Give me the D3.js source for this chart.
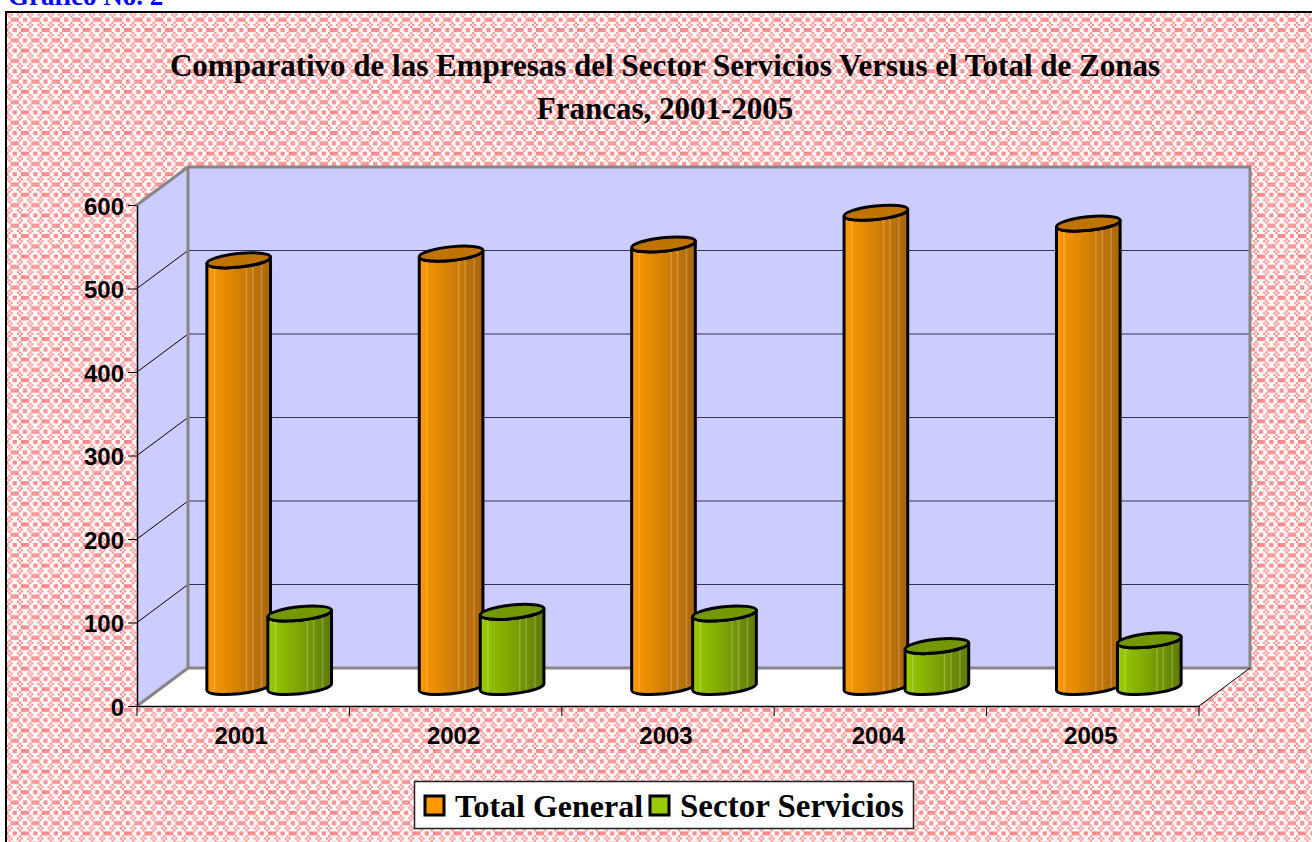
<!DOCTYPE html>
<html>
<head>
<meta charset="utf-8">
<title>Grafico No. 2</title>
<script src="https://cdnjs.cloudflare.com/ajax/libs/d3/7.8.5/d3.min.js"></script>
<style>
    html, body { margin: 0; padding: 0; background: #fff; overflow: hidden; }
    svg { display: block; }
    .serif { font-family: "Liberation Serif", "Times New Roman", serif; font-weight: bold; }
    .sans { font-family: "Liberation Sans", Arial, sans-serif; font-weight: bold; }
</style>
</head>
<body>
<div id="chart"></div>
<script>
// data
const years = ["2001", "2002", "2003", "2004", "2005"];
const seriesNames = ["Total General", "Sector Servicios"];
const totalGeneral = [511, 519, 530, 568, 555];
const sectorServicios = [88, 90, 88, 49, 56];
const yTicks = [0, 100, 200, 300, 400, 500, 600];
const titleLines = ["Comparativo de las Empresas del Sector Servicios Versus el Total de Zonas", "Francas, 2001-2005"];

const seriesValues = [totalGeneral, sectorServicios];
const colors = [
    {light: "#FF9900", dark: "#A8660C", top: "#BF7300"},
    {light: "#99CC00", dark: "#5F7A08", top: "#739900"}
];

// background tile, one char per cell
const tile = [
    "####..##..",
    "####..##..",
    "....#....#",
    "#..#.#..#.",
    "....#....#",
    ".##..####.",
    ".##..####.",
    "....#....#",
    "#..#.#..#.",
    "....#....#"
];
const cell = 2.06;

const svg = d3.select("#chart").append("svg")
    .attr("width", 1312)
    .attr("height", 842);
const defs = svg.append("defs");

// pattern fill of the chart area
const pattern = defs.append("pattern")
    .attr("id", "bgTile")
    .attr("patternUnits", "userSpaceOnUse")
    .attr("x", 0.3).attr("y", 7.4)
    .attr("width", tile[0].length * cell)
    .attr("height", tile.length * cell);
pattern.append("rect")
    .attr("width", tile[0].length * cell)
    .attr("height", tile.length * cell)
    .attr("fill", "#fff");
tile.forEach((row, r) => {
    row.split("").forEach((c, i) => {
        if (c === "#") {
            pattern.append("rect")
                .attr("x", i * cell).attr("y", r * cell)
                .attr("width", cell).attr("height", cell)
                .attr("fill", "#FF8080");
        }
    });
});

// the reference pattern is a bit soft
defs.append("filter").attr("id", "soft")
    .append("feGaussianBlur").attr("stdDeviation", 0.45);

// cylinder shading
colors.forEach((c, i) => {
    const shade = d3.interpolateRgb(c.light, c.dark);
    const grad = defs.append("linearGradient").attr("id", "cyl" + i);
    d3.range(0, 1.001, 0.02).forEach(t => {
        // a few pale stripes like the 3D renderer leaves behind
        const stripe = [0.12, 0.62, 0.72, 0.86].some(s => Math.abs(s - t) < 0.001);
        const col = stripe ? d3.interpolateRgb(shade(t), "#fff")(0.25) : shade(t);
        grad.append("stop").attr("offset", t).attr("stop-color", col);
    });
});

// chart frame
svg.append("rect")
    .attr("x", 6).attr("y", 12)
    .attr("width", 1340).attr("height", 860)
    .attr("fill", "url(#bgTile)")
    .attr("filter", "url(#soft)");
svg.append("rect")
    .attr("x", 6).attr("y", 12)
    .attr("width", 1340).attr("height", 860)
    .attr("fill", "none")
    .attr("stroke", "#000")
    .attr("stroke-width", 2);

svg.append("text")
    .attr("class", "serif")
    .attr("x", 8).attr("y", 5)
    .attr("font-size", 27)
    .attr("fill", "#0000FF")
    .text("Gráfico No. 2");

// title
svg.append("g").selectAll("text")
    .data(titleLines)
    .enter().append("text")
    .attr("class", "serif")
    .attr("x", 665)
    .attr("y", (d, i) => 76 + i * 43)
    .attr("text-anchor", "middle")
    .attr("font-size", 31)
    .attr("fill", "#000")
    .text(d => d);

// scales, front plane of the 3D box
const x = d3.scaleBand().domain(years).range([137, 1199]);
const y = d3.scaleLinear().domain([0, 600]).range([706, 205]);
const depth = {x: 51, y: -38};

const box = svg.append("g");
const wallFill = "#CCCCFF";
const wallStroke = "#868686";

// floor
box.append("polygon")
    .attr("points", [[x.range()[0], y(0)], [x.range()[0] + depth.x, y(0) + depth.y],
        [x.range()[1] + depth.x, y(0) + depth.y], [x.range()[1], y(0)]].join(" "))
    .attr("fill", "#fff");
// side wall
box.append("polygon")
    .attr("points", [[x.range()[0], y(0)], [x.range()[0], y(600)],
        [x.range()[0] + depth.x, y(600) + depth.y], [x.range()[0] + depth.x, y(0) + depth.y]].join(" "))
    .attr("fill", wallFill);
// back wall
box.append("rect")
    .attr("x", x.range()[0] + depth.x)
    .attr("y", y(600) + depth.y)
    .attr("width", x.range()[1] - x.range()[0])
    .attr("height", y(0) - y(600))
    .attr("fill", wallFill);

// gridlines on both walls
const grid = yTicks.filter(d => d > 0 && d < 600);
box.append("g").selectAll("line")
    .data(grid)
    .enter().append("line")
    .attr("x1", x.range()[0] + depth.x).attr("x2", x.range()[1] + depth.x)
    .attr("y1", d => y(d) + depth.y).attr("y2", d => y(d) + depth.y)
    .attr("stroke", "#333355").attr("stroke-width", 1);
box.append("g").selectAll("line")
    .data(grid)
    .enter().append("line")
    .attr("x1", x.range()[0]).attr("x2", x.range()[0] + depth.x)
    .attr("y1", d => y(d)).attr("y2", d => y(d) + depth.y)
    .attr("stroke", "#000").attr("stroke-width", 1);

// grey box edges
box.append("path")
    .attr("d", `M${x.range()[0]},${y(600)} L${x.range()[0] + depth.x},${y(600) + depth.y} ` +
        `H${x.range()[1] + depth.x} V${y(0) + depth.y} H${x.range()[0] + depth.x} V${y(600) + depth.y} ` +
        `M${x.range()[0] + depth.x},${y(0) + depth.y} L${x.range()[0]},${y(0)}`)
    .attr("fill", "none")
    .attr("stroke", wallStroke)
    .attr("stroke-width", 3);
box.append("line")
    .attr("x1", x.range()[1]).attr("y1", y(0))
    .attr("x2", x.range()[1] + depth.x).attr("y2", y(0) + depth.y)
    .attr("stroke", "#000").attr("stroke-width", 1);

// axes
const yAxis = d3.axisLeft(y).tickValues(yTicks).tickSize(9).tickPadding(4).tickSizeOuter(0).tickFormat(d3.format("d"));
const xAxis = d3.axisBottom(x).tickSize(0).tickPadding(21);

const yG = svg.append("g").attr("transform", `translate(${x.range()[0]},0)`).call(yAxis);
const xG = svg.append("g").attr("transform", `translate(0,${y(0)})`).call(xAxis);
[yG, xG].forEach(g => {
    g.selectAll("path").attr("stroke", "#000").attr("stroke-width", 1.5);
    g.selectAll("line").attr("stroke", "#000");
    g.selectAll("text").attr("class", "sans").attr("font-size", 24).attr("fill", "#000");
});
xG.selectAll("text").attr("dx", -2);
yG.selectAll("text").attr("transform", "translate(0,1.5)");

// x ticks sit between the categories
svg.append("g").selectAll("line")
    .data(d3.range(years.length + 1))
    .enter().append("line")
    .attr("x1", d => x.range()[0] + d * x.step())
    .attr("x2", d => x.range()[0] + d * x.step())
    .attr("y1", y(0)).attr("y2", y(0) + 10)
    .attr("stroke", "#000");

// cylinders
const groupWidth = 122;
const inner = d3.scaleBand().domain(seriesNames).range([0, groupWidth]);
const colWidth = 64;
const rx = colWidth / 2, ry = 6.8, tilt = -6;
const baseY = y(0) - 19;
const barOffset = 26;
const dy = rx * Math.sin(tilt * Math.PI / 180);
const dxx = rx * Math.cos(tilt * Math.PI / 180);

const bars = svg.append("g");
// series are drawn per year so the green one overlaps the orange one
years.forEach((year, yi) => {
    seriesNames.forEach((name, si) => {
        const cx = x(year) + x.bandwidth() / 2 + barOffset - groupWidth / 2 + inner(name) + inner.bandwidth() / 2;
        const topY = baseY - (y(0) - y(seriesValues[si][yi]));
        const g = bars.append("g");

        g.append("path")
            .attr("d", `M${cx - dxx},${topY - dy} L${cx - dxx},${baseY - dy} ` +
                `A${rx},${ry} ${tilt} 0 0 ${cx + dxx},${baseY + dy} ` +
                `L${cx + dxx},${topY + dy} A${rx},${ry} ${tilt} 0 1 ${cx - dxx},${topY - dy} Z`)
            .attr("fill", `url(#cyl${si})`)
            .attr("stroke", "#000")
            .attr("stroke-width", 3)
            .attr("stroke-linejoin", "round");

        g.append("ellipse")
            .attr("cx", cx).attr("cy", topY)
            .attr("rx", rx).attr("ry", ry)
            .attr("transform", `rotate(${tilt} ${cx} ${topY})`)
            .attr("fill", colors[si].top)
            .attr("stroke", "#000")
            .attr("stroke-width", 3);
    });
});

// legend
const legend = svg.append("g");
legend.append("rect")
    .attr("x", 414.5).attr("y", 781.5)
    .attr("width", 499).attr("height", 47)
    .attr("fill", "#fff")
    .attr("stroke", "#222")
    .attr("stroke-width", 1.5);
const legendX = [424, 649];
const legendFont = [32, 33];
seriesNames.forEach((name, i) => {
    legend.append("rect")
        .attr("x", legendX[i] + 1).attr("y", 796)
        .attr("width", 19).attr("height", 19)
        .attr("fill", colors[i].light)
        .attr("stroke", "#000")
        .attr("stroke-width", 3);
    legend.append("text")
        .attr("class", "serif")
        .attr("x", legendX[i] + 31).attr("y", 817)
        .attr("font-size", legendFont[i])
        .attr("fill", "#000")
        .text(name);
});
</script>
</body>
</html>
